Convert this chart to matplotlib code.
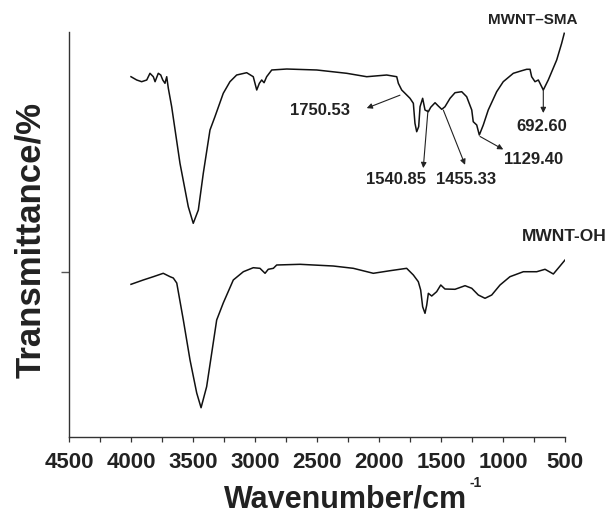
import matplotlib
matplotlib.use("Agg")
import matplotlib.pyplot as plt

plt.rcParams['font.family'] = ['Liberation Sans', 'DejaVu Sans']
plt.rcParams['font.weight'] = 'bold'

# MWNT-SMA spectrum (wavenumber, transmittance, arbitrary offset units)
sma_wn = [4000, 3954, 3914, 3873, 3847, 3820, 3806, 3780, 3760, 3744, 3726, 3712, 3699,
          3672, 3605, 3538, 3498, 3457, 3417, 3363, 3323, 3256, 3202, 3148, 3067, 3014,
          2986, 2965, 2946, 2927, 2906, 2865, 2744, 2502, 2260, 2099, 1938, 1857, 1844,
          1817, 1790, 1750, 1723, 1710, 1696, 1680, 1669, 1648, 1629, 1602, 1583, 1548,
          1522, 1494, 1468, 1427, 1387, 1333, 1293, 1252, 1240, 1212, 1191, 1159, 1119,
          1051, 998, 917, 849, 809, 782, 769, 742, 715, 675, 635, 567, 527, 506]
sma_t = [88.96, 88.15, 87.73, 88.15, 89.80, 88.96, 87.73, 89.80, 89.38, 88.15, 87.33, 88.96, 86.10,
         81.55, 67.58, 56.86, 52.76, 56.05, 65.11, 75.80, 79.09, 84.86, 87.73, 89.38, 89.95, 88.96,
         85.68, 87.33, 88.15, 87.48, 88.96, 90.62, 90.86, 90.62, 89.80, 88.96, 89.38, 88.96, 87.33,
         85.68, 84.86, 83.63, 82.39, 77.46, 75.38, 76.62, 81.55, 83.63, 80.74, 80.32, 81.41, 82.54,
         81.73, 80.91, 81.55, 83.63, 85.01, 85.26, 84.02, 80.74, 77.85, 77.04, 74.57, 77.04, 80.74,
         85.26, 87.73, 89.80, 90.44, 90.79, 90.79, 88.96, 87.73, 88.15, 85.68, 88.15, 93.09, 97.21, 99.68]

# MWNT-OH spectrum
oh_wn = [4000, 3901, 3820, 3740, 3685, 3659, 3631, 3578, 3524, 3470, 3435, 3390, 3349, 3309,
         3256, 3175, 3094, 3014, 2960, 2919, 2893, 2852, 2825, 2637, 2369, 2207, 2046, 1911,
         1777, 1723, 1683, 1664, 1648, 1629, 1615, 1602, 1575, 1535, 1502, 1468, 1387, 1306,
         1252, 1199, 1145, 1091, 1024, 944, 836, 728, 661, 594, 540, 500]
oh_t = [37.70, 38.77, 39.58, 40.42, 39.58, 39.26, 38.02, 28.89, 19.01, 10.86, 7.23, 12.42, 20.74, 28.89,
        33.09, 38.77, 40.81, 41.80, 41.65, 40.42, 41.41, 41.65, 42.47, 42.64, 42.22, 41.65, 40.42, 41.06,
        41.65, 40.00, 38.35, 36.30, 32.17, 30.54, 32.59, 35.48, 34.81, 35.88, 37.53, 36.54, 36.47, 37.36,
        36.72, 35.06, 34.25, 35.06, 37.53, 39.58, 40.81, 40.81, 41.41, 40.25, 42.22, 43.70]

# Peak annotations: label, text position, arrow tail (on curve), arrow head
ann_labels = ["1750.53", "1540.85", "1455.33", "1129.40", "692.60"]
ann_text_xy = [(2476, 80.5), (1863, 63.5), (1296, 63.5), (756, 68.4), (690, 76.6)]
ann_tail_xy = [(1831, 84.4), (1605, 80.7), (1481, 80.7), (1185, 74.2), (675, 85.7)]
ann_head_xy = [(2099, 81.2), (1643, 66.4), (1306, 67.2), (998, 71.0), (675, 80.0)]

series_labels = ["MWNT\u2013SMA", "MWNT-OH"]
series_label_xy = [(760, 103.0), (508, 49.4)]
series_label_size = [11, 12.5]

x_ticks = [4500, 4000, 3500, 3000, 2500, 2000, 1500, 1000, 500]
x_minor = [4250, 3750, 3250, 2750, 2250, 1750, 1250, 750]
y_ticks = [40.74]

fig = plt.figure(figsize=(6.08, 5.15), dpi=100)
ax = fig.add_axes([69/608, 1-437/515, (565-69)/608, (437-32)/515])

lc = '#111111'
ax.plot(sma_wn, sma_t, color=lc, lw=1.1)
ax.plot(oh_wn, oh_t, color=lc, lw=1.1)

ax.set_xlim(4500, 500)
ax.set_ylim(0, 100)
ax.set_xticks(x_ticks)
ax.set_xticks(x_minor, minor=True)
ax.set_yticks(y_ticks)
ax.set_yticklabels([])
ax.tick_params(axis='x', which='both', direction='out', length=3.5, width=0.9,
               labelsize=16, pad=7, color='#333333')
ax.tick_params(axis='y', direction='out', length=6, width=1.0, color='#555555')
for lbl in ax.get_xticklabels():
    lbl.set_fontweight('bold')
    lbl.set_color('#222222')

for s in ['top', 'right']:
    ax.spines[s].set_visible(False)
for s in ['left', 'bottom']:
    ax.spines[s].set_linewidth(1.0)
    ax.spines[s].set_color('#333333')

for lab, txy, tail, head in zip(ann_labels, ann_text_xy, ann_tail_xy, ann_head_xy):
    ax.text(txy[0], txy[1], lab, ha='center', va='center', fontsize=12,
            fontweight='bold', color='#222222')
    ax.annotate('', xy=head, xytext=tail,
                arrowprops=dict(arrowstyle='-|>', lw=0.8, color='#222222',
                                mutation_scale=8, shrinkA=0, shrinkB=0))

for lab, xy, fs in zip(series_labels, series_label_xy, series_label_size):
    ax.text(xy[0], xy[1], lab, ha='center', va='center', fontsize=fs,
            fontweight='bold', color='#222222', clip_on=False)

fig.text(224/608, 1-507/515, 'Wavenumber/cm', ha='left', va='baseline',
         fontsize=22, fontweight='bold', color='#222222')
fig.text(470/608, 1-487/515, '-1', ha='left', va='baseline',
         fontsize=10, fontweight='bold', color='#222222')
fig.text(31/608, 1-240/515, 'Transmittance/%', ha='center', va='center',
         rotation=90, fontsize=25, fontweight='bold', color='#222222')

fig.savefig('out.png', dpi=100)
